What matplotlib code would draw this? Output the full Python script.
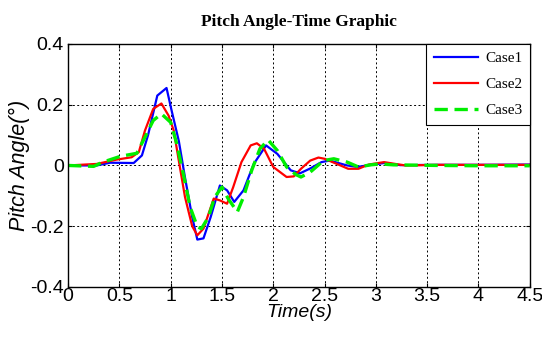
import numpy as np
import matplotlib.pyplot as plt

# -------------------------------
# Data
# -------------------------------

t1 = [0, 0.28, 0.41, 0.64, 0.72, 0.78, 0.87, 0.96, 1.01, 1.08, 1.14, 1.21, 1.26,
      1.32, 1.39, 1.48, 1.55, 1.62, 1.71, 1.81, 1.93, 2.04, 2.17, 2.26, 2.36,
      2.47, 2.55, 2.72, 2.82, 2.91, 3.08, 3.24, 3.6, 4.0, 4.5]
case1 = [0, 0, 0.009, 0.008, 0.033, 0.10, 0.23, 0.255, 0.18, 0.08, -0.04, -0.17,
         -0.244, -0.24, -0.17, -0.066, -0.082, -0.12, -0.082, 0.005, 0.066, 0.038,
         -0.016, -0.026, -0.01, 0.011, 0.016, 0, -0.005, 0, 0.008, 0.001, 0.002,
         0.002, 0.003]

t2 = [0, 0.28, 0.47, 0.62, 0.69, 0.75, 0.83, 0.91, 0.98, 1.03, 1.09, 1.14, 1.21,
      1.26, 1.32, 1.42, 1.48, 1.55, 1.61, 1.69, 1.78, 1.84, 1.91, 2.0, 2.13,
      2.2, 2.27, 2.36, 2.44, 2.5, 2.62, 2.73, 2.83, 2.93, 3.08, 3.19, 3.29,
      3.6, 4.0, 4.5]
case2 = [0, 0.005, 0.019, 0.027, 0.044, 0.115, 0.186, 0.204, 0.164, 0.115, -0.005,
         -0.104, -0.20, -0.23, -0.208, -0.109, -0.115, -0.126, -0.071, 0.011, 0.066,
         0.073, 0.055, -0.005, -0.038, -0.036, -0.011, 0.016, 0.026, 0.022, 0.005,
         -0.011, -0.011, 0.003, 0.011, 0.005, 0, 0.002, 0.002, 0.002]

t3 = [0, 0.25, 0.34, 0.51, 0.67, 0.75, 0.83, 0.91, 1.0, 1.06, 1.13, 1.19, 1.26,
      1.3, 1.37, 1.43, 1.5, 1.56, 1.65, 1.71, 1.79, 1.87, 1.95, 2.04, 2.13,
      2.22, 2.27, 2.36, 2.49, 2.59, 2.72, 2.83, 2.95, 3.04, 3.17, 3.6, 4.0, 4.5]
case3 = [0, -0.003, 0.011, 0.03, 0.04, 0.093, 0.148, 0.17, 0.142, 0.071, -0.038,
         -0.137, -0.202, -0.208, -0.169, -0.104, -0.071, -0.109, -0.153, -0.104,
         -0.016, 0.055, 0.084, 0.049, -0.005, -0.03, -0.038, -0.022, 0.016, 0.022,
         0.011, -0.005, 0.002, 0.005, 0.002, 0, -0.001, -0.001]

xticks = np.arange(0, 4.51, 0.5)
yticks = [-0.4, -0.2, 0, 0.2, 0.4]

# -------------------------------
# Figure
# -------------------------------

fig = plt.figure(figsize=(5.42, 3.38), dpi=100)
ax = fig.add_axes([0.1255, 0.151, 0.852, 0.719])

ax.plot(t1, case1, color='#0000ff', lw=1.6, label='Case1')
ax.plot(t2, case2, color='#ff0000', lw=1.6, label='Case2')
ax.plot(t3, case3, color='#00ee00', lw=2.4, ls='--', dashes=(4, 2), label='Case3')

ax.set_xlim(0, 4.5)
ax.set_ylim(-0.4, 0.4)
ax.set_xticks(xticks)
ax.set_xticklabels([f"{v:g}" for v in xticks])
ax.set_yticks(yticks)
ax.set_yticklabels([f"{v:g}" for v in yticks])
ax.tick_params(direction='in', length=3, labelsize=14, top=True, right=True)
ax.tick_params(axis='x', pad=1)
ax.tick_params(axis='y', pad=3)
for lab in ax.get_xticklabels() + ax.get_yticklabels():
    lab.set_fontfamily('Liberation Sans')

ax.grid(True, color='black', ls=(0, (2, 2.5)), lw=0.7)
for s in ax.spines.values():
    s.set_linewidth(1.0)

ax.set_title("Pitch Angle-Time Graphic", fontfamily='Liberation Serif',
             fontweight='bold', fontsize=12.5, pad=13)
ax.set_xlabel("Time(s)", fontfamily='Liberation Sans', style='italic',
              fontsize=14, labelpad=-1)
ax.set_ylabel("Pitch Angle(°)", fontfamily='Liberation Sans', style='italic',
              fontsize=15.5, labelpad=0)

leg = ax.legend(loc='upper right', prop={'family': 'Liberation Serif', 'size': 11},
                fancybox=False, edgecolor='black', framealpha=1,
                borderaxespad=0, handlelength=2.9, labelspacing=0.8,
                borderpad=0.5, handletextpad=0.45)
leg.get_frame().set_linewidth(0.8)

fig.savefig("out.png", dpi=100)
